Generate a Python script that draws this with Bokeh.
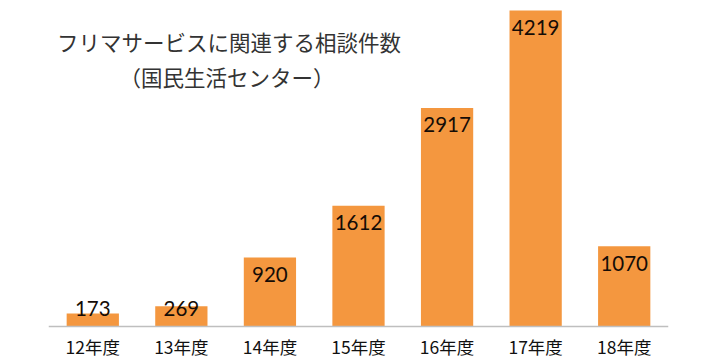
from bokeh.plotting import figure
from bokeh.models import ColumnDataSource, FactorRange, Range1d, Label, Span
from bokeh.core.properties import value
from bokeh.embed import file_html
from bokeh.resources import INLINE

categories = ["12年度", "13年度", "14年度", "15年度", "16年度", "17年度", "18年度"]
counts = [173, 269, 920, 1612, 2917, 4219, 1070]
title_lines = ["フリマサービスに関連する相談件数", "（国民生活センター）"]

label_y = [max(v - 225, 236) for v in counts]
src = ColumnDataSource(dict(cat=categories, v=counts, ly=label_y, txt=[str(v) for v in counts],
                            cy=[-270] * len(categories)))

p = figure(width=720, height=360, output_backend="svg", toolbar_location=None,
           x_range=FactorRange(*categories, range_padding=0), y_range=Range1d(-454, 4352),
           x_axis_location=None, y_axis_location=None, min_border_left=48, min_border_right=52,
           min_border_top=0, min_border_bottom=0)
p.outline_line_color = None
p.xgrid.grid_line_color = None
p.ygrid.grid_line_color = None
p.background_fill_color = "white"

p.vbar(x="cat", top="v", bottom=0, width=0.59, source=src, color="#F4973F", line_color=None)
p.add_layout(Span(location=0, dimension="width", line_color="#BFBFBF", line_width=1.5))
p.text(x="cat", y="ly", text="txt", source=src, text_align="center", text_baseline="middle",
       text_font=value("Lato"), text_font_size="20.5px", text_color="#150c06")
p.text(x="cat", y="cy", text="cat", source=src, text_align="center", text_baseline="middle",
       text_font=value("Noto Sans CJK JP"), text_font_size="17.5px", text_color="#111111")

p.add_layout(Label(x=2.038, y=3805, text=title_lines[0], text_align="center", text_baseline="middle",
                   text_font="Noto Sans CJK JP", text_font_size="21.5px", text_color="#333333"))
p.add_layout(Label(x=2.015, y=3338, text=title_lines[1], text_align="center", text_baseline="middle",
                   text_font="Noto Sans CJK JP", text_font_size="21.5px", text_color="#333333"))

open("out.html", "w").write(file_html(p, INLINE))
